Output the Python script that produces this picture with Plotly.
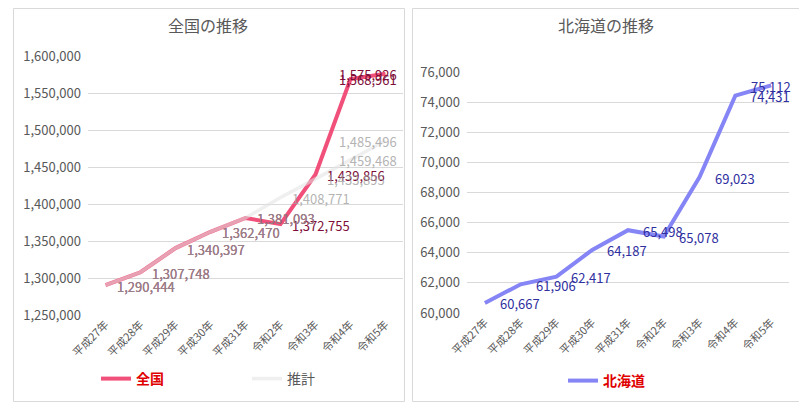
import plotly.graph_objects as go

categories = ["平成27年", "平成28年", "平成29年", "平成30年", "平成31年",
              "令和2年", "令和3年", "令和4年", "令和5年"]
national = [1290444, 1307748, 1340397, 1362470, 1381093,
            1372755, 1439856, 1568961, 1575926]
estimate = [1290444, 1307748, 1340397, 1362470, 1381093,
            1408771, 1433895, 1459468, 1485496]
hokkaido = [60667, 61906, 62417, 64187, 65498,
            65078, 69023, 74431, 75112]

nat_ticks = [1250000, 1300000, 1350000, 1400000, 1450000, 1500000, 1550000, 1600000]
hok_ticks = [60000, 62000, 64000, 66000, 68000, 70000, 72000, 74000, 76000]

W, H = 807, 409
OFF = 8  # page body margin offset

def px(x):
    return (x - OFF) / W

def py(y):
    return 1 - (y - OFF) / H

FONT = "Noto Sans CJK JP"
GRID = "#D9D9D9"
AXC = "#595959"
PINK = "#F0507A"
GRAYLINE = "rgba(225,225,225,0.55)"
BLUE = "#8585F5"

fig = go.Figure()

fig.add_trace(go.Scatter(
    x=categories, y=national, mode="lines", name="<b>全国</b>",
    line=dict(color=PINK, width=4), xaxis="x", yaxis="y",
    legend="legend", hoverinfo="skip"))
fig.add_trace(go.Scatter(
    x=categories, y=estimate, mode="lines",
    name="<span style='color:#595959'>推計</span>",
    line=dict(color=GRAYLINE, width=3.5), xaxis="x", yaxis="y",
    legend="legend", hoverinfo="skip"))
fig.add_trace(go.Scatter(
    x=categories, y=hokkaido, mode="lines", name="<b>北海道</b>",
    line=dict(color=BLUE, width=4), xaxis="x2", yaxis="y2",
    legend="legend2", hoverinfo="skip"))

annotations = []

def add_labels(xs, ys, color, xa, ya, base_shift, overrides):
    for i, (c, v) in enumerate(zip(xs, ys)):
        anchor, shift = overrides.get(i, ("left", base_shift))
        annotations.append(dict(
            x=c, y=v, xref=xa, yref=ya, text=f"{v:,}", showarrow=False,
            xanchor=anchor, yanchor="middle", xshift=shift, yshift=-1,
            font=dict(family=FONT, size=13, color=color)))

add_labels(categories, national, "#7E0E38", "x", "y", 9,
           {7: ("left", -14), 8: ("right", 13)})
add_labels(categories, estimate, "rgba(160,160,160,0.8)", "x", "y", 9,
           {7: ("left", -14), 8: ("right", 13)})
add_labels(categories, hokkaido, "#2F2F9F", "x2", "y2", 13,
           {8: ("right", 22)})

annotations.append(dict(text="全国の推移", x=px(208), y=py(25), xref="paper", yref="paper",
                        showarrow=False, font=dict(family=FONT, size=16, color=AXC),
                        xanchor="center", yanchor="middle"))
annotations.append(dict(text="北海道の推移", x=px(606), y=py(25), xref="paper", yref="paper",
                        showarrow=False, font=dict(family=FONT, size=16, color=AXC),
                        xanchor="center", yanchor="middle"))

shapes = [
    dict(type="rect", xref="paper", yref="paper", x0=px(13.5), x1=px(404.5),
         y0=py(401.5), y1=py(8.5), line=dict(color=GRID, width=1)),
    dict(type="rect", xref="paper", yref="paper", x0=px(412.5), x1=px(802.5),
         y0=py(401.5), y1=py(8.5), line=dict(color=GRID, width=1)),
]

xaxis_common = dict(type="category", showgrid=False, showline=False, ticks="",
                    tickangle=-45, range=[-0.5, 8.5], automargin=False,
                    tickfont=dict(family=FONT, size=11, color=AXC), fixedrange=True)
yaxis_common = dict(showgrid=True, gridcolor=GRID, gridwidth=1, zeroline=False,
                    showline=False, ticks="", tickformat=",d", automargin=False,
                    tickfont=dict(family=FONT, size=13, color=AXC),
                    ticklabelstandoff=6, fixedrange=True)

fig.update_layout(
    width=W, height=H, autosize=False,
    margin=dict(l=0, r=0, t=0, b=0, pad=0, autoexpand=False),
    paper_bgcolor="white", plot_bgcolor="white",
    font=dict(family=FONT, color=AXC),
    xaxis=dict(domain=[px(88), px(403)], anchor="y", **xaxis_common),
    yaxis=dict(domain=[py(315), py(56)], anchor="x",
               range=[1250000, 1600000], tickvals=nat_ticks, **yaxis_common),
    xaxis2=dict(domain=[px(467), px(789)], anchor="y2", **xaxis_common),
    yaxis2=dict(domain=[py(313), py(72)], anchor="x2",
                range=[60000, 76000], tickvals=hok_ticks, **yaxis_common),
    legend=dict(orientation="h", x=px(96), y=py(379), xanchor="left", yanchor="middle",
                font=dict(family=FONT, size=14, color="#E00000"),
                entrywidth=106, bgcolor="rgba(0,0,0,0)", itemclick=False),
    legend2=dict(orientation="h", x=px(563), y=py(381), xanchor="left", yanchor="middle",
                 font=dict(family=FONT, size=14, color="#E00000"),
                 bgcolor="rgba(0,0,0,0)", itemclick=False),
    annotations=annotations, shapes=shapes,
    showlegend=True,
)

fig.write_html("out.html")
